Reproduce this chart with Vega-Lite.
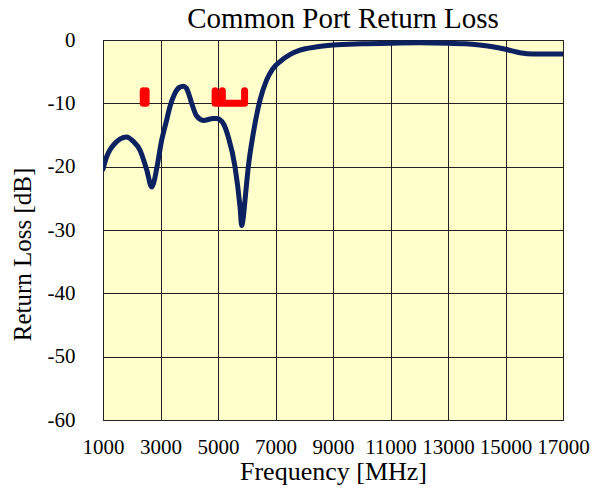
{
  "$schema": "https://vega.github.io/schema/vega-lite/v6.json",
  "autosize": "none",
  "width": 460,
  "height": 380,
  "padding": {"left": 103, "top": 40, "right": 32, "bottom": 81},
  "background": "white",
  "title": {"text": "Common Port Return Loss", "font": "Liberation Serif", "fontSize": 29, "fontWeight": "normal", "color": "black", "anchor": "middle", "offset": 5, "dx": 10, "dy": 10},
  "config": {
    "view": {"fill": "#FFFFCC", "stroke": "#555555", "strokeWidth": 1},
    "axis": {"labelFont": "Liberation Serif", "titleFont": "Liberation Serif", "labelFontSize": 21, "titleFontSize": 25, "titleFontWeight": "normal", "labelColor": "black", "titleColor": "black", "domainColor": "#222222", "gridColor": "#222222", "gridWidth": 1}
  },
  "datasets": {
    "curve": [
      {"f": 1000, "rl": -20.4}, {"f": 1128, "rl": -18.4}, {"f": 1250, "rl": -17.3}, {"f": 1360, "rl": -16.6},
      {"f": 1600, "rl": -15.6}, {"f": 1824, "rl": -15.3}, {"f": 2050, "rl": -16.0}, {"f": 2287, "rl": -17.4},
      {"f": 2520, "rl": -20.5}, {"f": 2693, "rl": -23.2}, {"f": 2760, "rl": -22.6}, {"f": 2868, "rl": -20.3},
      {"f": 3042, "rl": -15.8}, {"f": 3216, "rl": -12.6}, {"f": 3330, "rl": -10.5}, {"f": 3504, "rl": -8.4},
      {"f": 3650, "rl": -7.5}, {"f": 3793, "rl": -7.3}, {"f": 3900, "rl": -7.6}, {"f": 3967, "rl": -8.3},
      {"f": 4085, "rl": -10.0}, {"f": 4259, "rl": -12.0}, {"f": 4490, "rl": -12.7}, {"f": 4838, "rl": -12.4},
      {"f": 4955, "rl": -12.4}, {"f": 5070, "rl": -12.6}, {"f": 5200, "rl": -13.3}, {"f": 5358, "rl": -15.3},
      {"f": 5591, "rl": -20.0}, {"f": 5765, "rl": -26.3}, {"f": 5824, "rl": -29.3}, {"f": 5880, "rl": -28.0},
      {"f": 5939, "rl": -25.3}, {"f": 6055, "rl": -20.0}, {"f": 6228, "rl": -14.7}, {"f": 6461, "rl": -9.5},
      {"f": 6693, "rl": -6.3}, {"f": 6900, "rl": -4.6}, {"f": 7157, "rl": -3.4}, {"f": 7500, "rl": -2.3},
      {"f": 7852, "rl": -1.6}, {"f": 8400, "rl": -1.1}, {"f": 9000, "rl": -0.8}, {"f": 10000, "rl": -0.6},
      {"f": 11000, "rl": -0.5}, {"f": 12000, "rl": -0.45}, {"f": 13000, "rl": -0.5}, {"f": 13600, "rl": -0.6},
      {"f": 14100, "rl": -0.8}, {"f": 14600, "rl": -1.1}, {"f": 15040, "rl": -1.5}, {"f": 15500, "rl": -2.0},
      {"f": 15967, "rl": -2.2}, {"f": 16500, "rl": -2.2}, {"f": 17000, "rl": -2.2}
    ],
    "mask": [
      {"band": "a", "o": 1, "f": 2400, "rl": -8}, {"band": "a", "o": 2, "f": 2400, "rl": -10},
      {"band": "a", "o": 3, "f": 2500, "rl": -10}, {"band": "a", "o": 4, "f": 2500, "rl": -8},
      {"band": "b", "o": 1, "f": 4900, "rl": -8}, {"band": "b", "o": 2, "f": 4900, "rl": -10},
      {"band": "b", "o": 3, "f": 5150, "rl": -10}, {"band": "b", "o": 4, "f": 5150, "rl": -8},
      {"band": "b", "o": 5, "f": 5150, "rl": -10}, {"band": "b", "o": 6, "f": 5925, "rl": -10},
      {"band": "b", "o": 7, "f": 5925, "rl": -8}
    ]
  },
  "layer": [
    {
      "data": {"name": "curve"},
      "mark": {"type": "line", "color": "#0b2160", "strokeWidth": 5, "interpolate": "monotone", "strokeCap": "round", "strokeJoin": "round", "clip": true},
      "encoding": {
        "x": {"field": "f", "type": "quantitative", "scale": {"domain": [1000, 17000], "nice": false, "zero": false},
          "axis": {"title": "Frequency [MHz]", "titleFontSize": 26, "values": [1000, 3000, 5000, 7000, 9000, 11000, 13000, 15000, 17000], "format": "d", "ticks": false, "grid": true, "labelPadding": 16, "labelOverlap": false, "labelFlush": false, "labelBound": false, "titleBaseline": "alphabetic", "titleY": 59, "domain": true}},
        "y": {"field": "rl", "type": "quantitative", "scale": {"domain": [-60, 0], "nice": false},
          "axis": {"title": "Return Loss [dB]", "values": [-60, -55, -50, -45, -40, -35, -30, -25, -20, -15, -10, -5, 0],
            "labelExpr": "datum.value % 10 == 0 ? '' + datum.value : ''",
            "gridOpacity": {"condition": {"test": "datum.value % 10 == 0", "value": 1}, "value": 0},
            "labelOverlap": false,
            "ticks": true, "tickSize": -5, "tickColor": "#222222", "labelPadding": 33, "titleBaseline": "middle", "titleX": -81, "titleY": 214, "domain": true}}
      }
    },
    {
      "data": {"name": "mask"},
      "mark": {"type": "line", "color": "#ff0000", "strokeWidth": 7, "strokeCap": "round", "strokeJoin": "round"},
      "encoding": {
        "x": {"field": "f", "type": "quantitative"},
        "y": {"field": "rl", "type": "quantitative"},
        "detail": {"field": "band"},
        "order": {"field": "o"}
      }
    }
  ]
}
